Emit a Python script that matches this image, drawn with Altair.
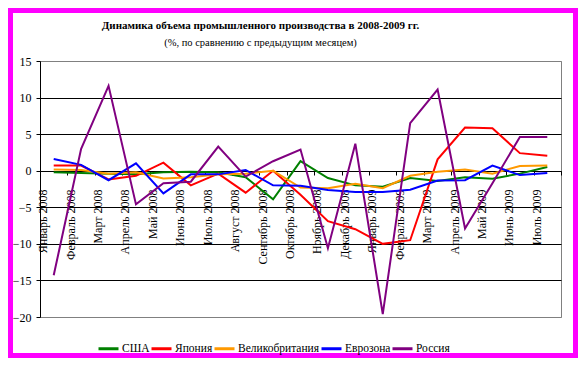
import altair as alt
import pandas as pd

months = ["Январь 2008", "Февраль 2008", "Март 2008", "Апрель 2008", "Май 2008", "Июнь 2008",
          "Июль 2008", "Август 2008", "Сентябрь 2008", "Октябрь 2008", "Ноябрь 2008", "Декабрь 2008",
          "Январь 2009", "Февраль 2009", "Март 2009", "Апрель 2009", "Май 2009", "Июнь 2009", "Июль 2009"]

usa = [-0.2, -0.3, -0.4, -0.5, -0.2, -0.15, -0.2, -0.9, -3.9, 1.3, -1.0, -2.0, -2.2, -1.0, -1.4, -0.9, -1.1, -0.4, 0.5]
japan = [0.7, 0.7, -1.2, -0.7, 1.1, -2.0, -0.4, -3.0, 0.0, -3.3, -6.9, -8.0, -10.0, -9.5, 1.55, 5.9, 5.8, 2.4, 2.05]
uk = [0.15, 0.1, -0.4, -0.2, -1.05, -0.9, -0.5, -0.4, 0.0, -2.3, -2.4, -1.8, -2.4, -0.7, -0.15, 0.15, -0.4, 0.65, 0.7]
eurozone = [1.6, 0.8, -1.3, 1.0, -3.1, -0.5, -0.5, 0.1, -2.0, -2.05, -2.65, -2.9, -2.9, -2.6, -1.35, -1.3, 0.7, -0.6, -0.3]
russia = [-14.3, 3.0, 11.6, -4.6, -1.7, -1.5, 3.3, -0.8, 1.3, 2.9, -10.6, 3.7, -19.6, 6.5, 11.1, -7.9, -1.7, 4.6, 4.6]

series_names = ["США", "Япония", "Великобритания", "Еврозона", "Россия"]
series_values = [usa, japan, uk, eurozone, russia]
colors = ["#008000", "#FF0000", "#FF9900", "#0000FF", "#800080"]
y_ticks = [15, 10, 5, 0, -5, -10, -15, -20]

rows = []
for name, vals in zip(series_names, series_values):
    for m, v in zip(months, vals):
        rows.append({"month": m, "series": name, "value": v})
df = pd.DataFrame(rows)

FONT = "Liberation Serif"
W, H = 521, 256

lines = alt.Chart(df).mark_line(strokeWidth=2).encode(
    x=alt.X("month:N", sort=months,
            scale=alt.Scale(type="band", paddingInner=0, paddingOuter=0),
            axis=alt.Axis(title=None, orient="bottom", offset=-146, labelAngle=270,
                          labelAlign="right", labelBaseline="middle", labelOffset=-11,
                          labelPadding=14, tickSize=4, tickBand="extent",
                          domainColor="black", tickColor="black", grid=False,
                          labelFont=FONT, labelFontSize=12, labelColor="black",
                          labelOverlap=False)),
    y=alt.Y("value:Q", scale=alt.Scale(domain=[-20, 15], nice=False, zero=False),
            axis=alt.Axis(title=None, values=y_ticks, grid=True,
                          gridColor={"condition": {"test": "datum.value == 15 || datum.value == -20", "value": "#808080"}, "value": "black"},
                          domainColor="black", tickColor="black", tickSize=4,
                          labelPadding=5, labelFont=FONT, labelFontSize=12, labelColor="black")),
    color=alt.Color("series:N", sort=series_names,
                    scale=alt.Scale(domain=series_names, range=colors),
                    legend=alt.Legend(orient="none", legendX=57, legendY=276, direction="horizontal",
                                      title=None, symbolType="stroke", symbolSize=400,
                                      symbolStrokeWidth=3, labelFont=FONT, labelFontSize=11.5,
                                      labelColor="black", columnPadding=-6, labelOffset=2, padding=0)),
)

border = alt.Chart(alt.Data(values=[{"a": 1}])).mark_rect(
    filled=False, stroke="#FF00FF", strokeWidth=5
).encode(
    x=alt.value(-29.5), x2=alt.value(535.5), y=alt.value(-50.5), y2=alt.value(294.5)
)

chart = alt.layer(lines, border).properties(
    width=W, height=H,
    padding={"left": 32, "top": 53, "right": 17, "bottom": 41},
    autosize=alt.AutoSizeParams(type="none"),
    background="white",
    title=alt.TitleParams(
        text="Динамика объема промышленного производства в 2008-2009 гг.",
        subtitle="(%, по сравнению с предыдущим месяцем)",
        anchor="middle", dx=-40, offset=-40, font=FONT, fontSize=11, fontWeight="bold",
        color="black", subtitleFont=FONT, subtitleFontSize=10.5, subtitleColor="black",
        subtitlePadding=7),
).configure_view(stroke="#808080", strokeWidth=1)

chart.save("out.html", embed_options={"renderer": "svg", "actions": False})
